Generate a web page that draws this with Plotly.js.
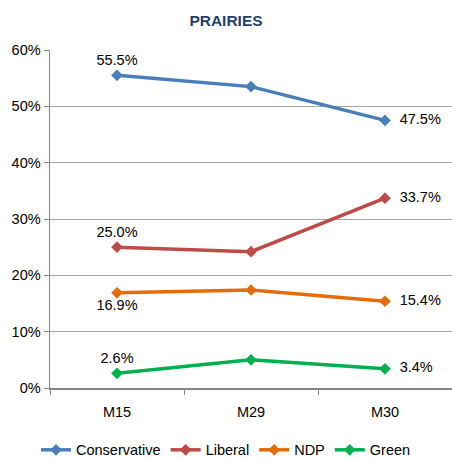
<!DOCTYPE html>
<html>
<head>
<meta charset="utf-8">
<script src="https://cdn.plot.ly/plotly-3.0.1.min.js"></script>
<style>html,body{margin:0;padding:0;background:#fff;}#chart{width:452px;height:460px;}</style>
</head>
<body>
<div id="chart"></div>
<script>
const categories = ['M15', 'M29', 'M30'];
const seriesNames = ['Conservative', 'Liberal', 'NDP', 'Green'];
const conservative = [55.5, 53.5, 47.5];
const liberal = [25.0, 24.2, 33.7];
const ndp = [16.9, 17.4, 15.4];
const green = [2.6, 5.0, 3.4];
const yTickVals = [0, 10, 20, 30, 40, 50, 60];
const yTickText = ['0%', '10%', '20%', '30%', '40%', '50%', '60%'];

const FONT = 'Liberation Sans, Arial, sans-serif';
const colors = ['#4A7EBB', '#BE4B48', '#E46C0A', '#00B050'];
const firstPos = ['top center', 'top center', 'bottom center', 'top center'];
const allSeries = [conservative, liberal, ndp, green];

const traces = allSeries.map((vals, k) => ({
  type: 'scatter',
  mode: 'lines+markers+text',
  name: seriesNames[k],
  x: categories,
  y: vals,
  text: vals.map((v, i) => (i === 1 ? '' : (i === 2 ? '\u00a0\u00a0' : '') + v.toFixed(1) + '%')),
  textposition: [firstPos[k], 'top center', 'middle right'],
  textfont: {family: FONT, size: 14.5, color: '#000'},
  line: {color: colors[k], width: 3.5},
  marker: {symbol: 'diamond', size: 9, color: colors[k]},
  cliponaxis: false,
  hoverinfo: 'skip'
}));

const layout = {
  width: 452,
  height: 460,
  margin: {l: 50, r: 0, t: 50, b: 72},
  paper_bgcolor: '#fff',
  plot_bgcolor: '#fff',
  font: {family: FONT, size: 14.5, color: '#000'},
  title: {
    text: '<b>PRAIRIES</b>',
    font: {family: FONT, size: 15.5, color: '#1F3F6E'},
    x: 0.5, xanchor: 'center', y: 0.955, yanchor: 'middle'
  },
  xaxis: {
    type: 'category',
    range: [-0.5, 2.5],
    showgrid: false,
    showline: true,
    linecolor: '#868686',
    linewidth: 1.5,
    ticks: 'outside',
    tickson: 'boundaries',
    ticklen: 5,
    tickcolor: '#868686',
    tickfont: {size: 14.5},
    ticklabelstandoff: 10,
    zeroline: false,
    automargin: false,
    fixedrange: true
  },
  yaxis: {
    range: [0, 60],
    tickvals: yTickVals,
    ticktext: yTickText,
    showgrid: true,
    gridcolor: '#A6A6A6',
    gridwidth: 1,
    showline: true,
    linecolor: '#868686',
    linewidth: 1.5,
    ticks: 'outside',
    ticklen: 5,
    tickcolor: '#868686',
    tickfont: {size: 14.5},
    zeroline: false,
    automargin: false,
    fixedrange: true
  },
  showlegend: true,
  legend: {
    orientation: 'h',
    xref: 'container', yref: 'container',
    x: 0.5, xanchor: 'center',
    y: 0.022, yanchor: 'middle',
    font: {size: 14.5},
    tracegroupgap: 0
  }
};

Plotly.newPlot('chart', traces, layout, {displayModeBar: false, staticPlot: true});
</script>
</body>
</html>
